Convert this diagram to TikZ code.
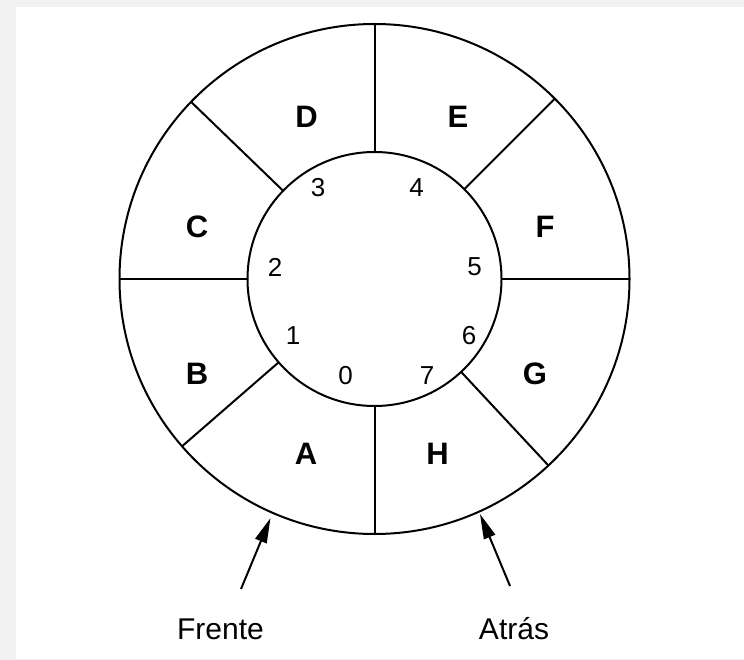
\documentclass[tikz,border=0pt]{standalone}
\usepackage{fontspec}
\setmainfont{Liberation Sans}
\usetikzlibrary{arrows.meta,calc}
\definecolor{framegray}{HTML}{F2F2F2}
\begin{document}
\begin{tikzpicture}[
  x=1pt, y=-1pt,
  ring/.style={line width=2pt},
  slot/.style={font=\bfseries\fontsize{31}{31}\selectfont, inner sep=0pt},
  idx/.style={font=\fontsize{26}{26}\selectfont, inner sep=0pt},
  tag/.style={font=\fontsize{30}{30}\selectfont, inner sep=0pt},
  ptr/.style={-{Triangle[length=25pt,width=12pt]}, line width=2pt},
]
  \fill[framegray] (0,0) rectangle (744,660);
  \fill[white] (16,7.5) rectangle (744,659);
  \useasboundingbox (0,0) rectangle (744,660);

  \coordinate (c) at (374.5,279);
  \draw[ring] (c) circle[radius=255];
  \draw[ring] (c) circle[radius=127];
  \foreach \a in {0,47,90,139,180,224,270,315}
    \draw[ring] ($(c)+(\a:127)$) -- ($(c)+(\a:255)$);

  \node[slot] (sd) at (306.5,116.5) {D};
  \node[slot] (se) at (458,116.5) {E};
  \node[slot] (sc) at (197,227) {C};
  \node[slot] (sf) at (545,227) {F};
  \node[slot] (sb) at (197,374) {B};
  \node[slot] (sg) at (535,374) {G};
  \node[slot] (sa) at (306,454) {A};
  \node[slot] (sh) at (437.5,454) {H};

  \node[idx] (i3) at (318,188) {3};
  \node[idx] (i4) at (416.5,188) {4};
  \node[idx] (i2) at (275,267) {2};
  \node[idx] (i5) at (474.5,267) {5};
  \node[idx] (i1) at (293,336) {1};
  \node[idx] (i6) at (469,336) {6};
  \node[idx] (i0) at (345.5,376) {0};
  \node[idx] (i7) at (427,376) {7};

  \node[tag] (frente) at (220.5,629) {Frente};
  \node[tag] (atras)  at (514,629)   {Atrás};

  \coordinate (ft) at (241,589);
  \coordinate (fh) at (270.5,518);
  \coordinate (at) at (510,586);
  \coordinate (ah) at (480,514);
  \draw[ptr] (ft) -- (fh);
  \draw[ptr] (at) -- (ah);
\end{tikzpicture}
\end{document}
